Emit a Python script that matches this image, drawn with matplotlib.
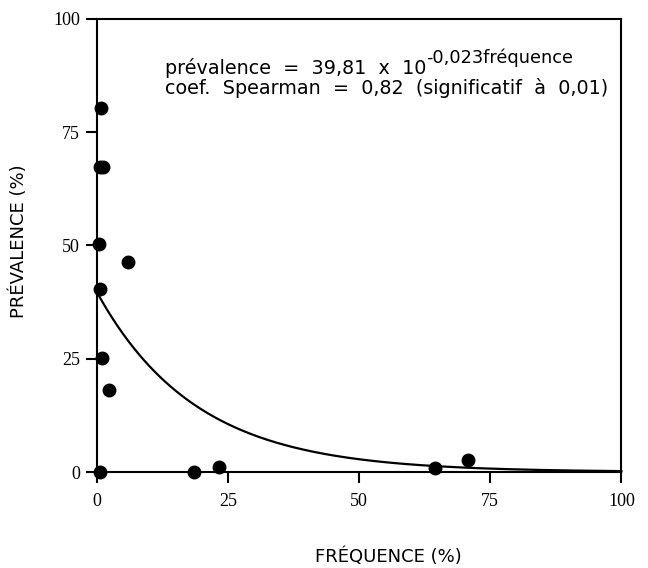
import numpy as np
import matplotlib
matplotlib.use("Agg")
import matplotlib.pyplot as plt

# data
freq = [0.8, 0.6, 1.2, 0.4, 0.7, 1.0, 2.3, 5.9, 0.6, 18.5, 23.4, 64.5, 70.8]
prev = [80.4, 67.3, 67.3, 50.2, 40.3, 25.1, 18.1, 46.3, 0.0, 0.0, 1.0, 0.8, 2.6]
fit_a, fit_b = 39.81, -0.023
ticks = [0, 25, 50, 75, 100]

fig = plt.figure(figsize=(6.48, 5.68), dpi=100)
ax = fig.add_axes([0.149, 0.169, 0.810, 0.798])

xf = np.linspace(0, 100, 300)
ax.plot(xf, fit_a * 10 ** (fit_b * xf), color="black", lw=1.6, clip_on=False, zorder=2)
ax.plot(freq, prev, "o", color="black", ms=9, clip_on=False, zorder=3)

ax.set_xlim(0, 100)
ax.set_ylim(0, 100)
ax.set_xticks(ticks)
ax.set_yticks(ticks)
for s in ax.spines.values():
    s.set_linewidth(1.5)
ax.tick_params(direction="out", length=8, width=1.5, labelsize=13, pad=4)
ax.tick_params(axis="x", pad=7)
for lab in ax.get_xticklabels() + ax.get_yticklabels():
    lab.set_family("Liberation Serif")

sans = "DejaVu Sans"
ax.set_xlabel("FRÉQUENCE (%)", family=sans, fontsize=13, va="center")
ax.xaxis.set_label_coords(0.556, -0.187)
ax.set_ylabel("PRÉVALENCE (%)", family=sans, fontsize=13, va="center")
ax.yaxis.set_label_coords(-0.149, 0.51)

t = ax.text(0.13, 0.879, "prévalence  =  39,81  x  10", transform=ax.transAxes,
            family=sans, fontsize=13.8, va="baseline")
ax.annotate("-0,023fréquence", xy=(1, 0.55), xycoords=t, family=sans,
            fontsize=12.8, va="bottom", ha="left")
ax.text(0.13, 0.833, "coef.  Spearman  =  0,82  (significatif  à  0,01)",
        transform=ax.transAxes, family=sans, fontsize=13.8, va="baseline")

fig.savefig("out.png", dpi=100, facecolor="white")
